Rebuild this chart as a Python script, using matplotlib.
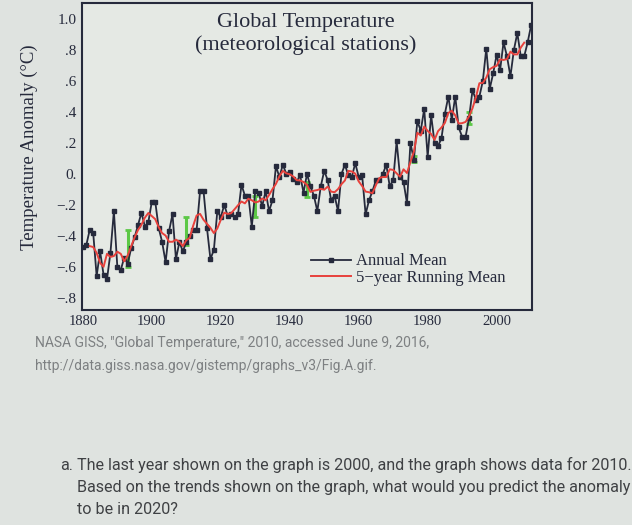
import numpy as np
import pandas as pd
import matplotlib
matplotlib.use("Agg")
import matplotlib.pyplot as plt

# ---------------------------------------------------
# DATA
# ---------------------------------------------------
years = np.arange(1880, 2011)
annual_mean = [
    -0.47, -0.46, -0.36, -0.38, -0.66, -0.50, -0.65, -0.68, -0.51, -0.24,   # 1880s
    -0.60, -0.62, -0.54, -0.58, -0.48, -0.41, -0.33, -0.25, -0.34, -0.31,   # 1890s
    -0.18, -0.18, -0.35, -0.44, -0.57, -0.37, -0.26, -0.55, -0.44, -0.50,   # 1900s
    -0.44, -0.40, -0.36, -0.36, -0.11, -0.11, -0.35, -0.55, -0.49, -0.24,   # 1910s
    -0.28, -0.20, -0.27, -0.26, -0.28, -0.26, -0.07, -0.14, -0.14, -0.34,   # 1920s
    -0.11, -0.12, -0.21, -0.11, -0.24, -0.17, 0.05, -0.02, 0.06, 0.00,      # 1930s
    0.01, -0.03, -0.05, -0.01, -0.12, 0.00, -0.08, -0.14, -0.24, -0.08,     # 1940s
    0.02, -0.04, -0.17, -0.14, -0.24, 0.00, 0.06, -0.01, -0.02, 0.07,       # 1950s
    -0.02, -0.01, -0.26, -0.17, -0.11, -0.04, -0.04, 0.00, 0.06, -0.08,     # 1960s
    -0.04, 0.21, -0.02, -0.05, -0.19, 0.20, 0.09, 0.34, 0.28, 0.42,         # 1970s
    0.11, 0.38, 0.20, 0.18, 0.23, 0.39, 0.50, 0.35, 0.50, 0.30,             # 1980s
    0.24, 0.24, 0.36, 0.54, 0.48, 0.50, 0.60, 0.81, 0.55, 0.65,             # 1990s
    0.77, 0.67, 0.85, 0.76, 0.63, 0.80, 0.91, 0.76, 0.76, 0.85,             # 2000s
    0.96,                                                                   # 2010
]

# green uncertainty bars
err_years = [1893, 1910, 1930, 1945, 1976, 1992]
err_mid = [-0.48, -0.37, -0.21, -0.10, 0.095, 0.36]
err_half = [0.12, 0.09, 0.07, 0.05, 0.02, 0.04]

ytick_vals = [-0.8, -0.6, -0.4, -0.2, 0.0, 0.2, 0.4, 0.6, 0.8, 1.0]
ytick_labels = ["\u2212.8", "\u2212.6", "\u2212.4", "\u2212.2", "0.", ".2", ".4", ".6", ".8", "1.0"]
xtick_vals = [1880, 1900, 1920, 1940, 1960, 1980, 2000]

# 5-year running mean
running_mean = pd.Series(annual_mean, index=years).rolling(5, center=True).mean()

# ---------------------------------------------------
# FIGURE
# ---------------------------------------------------
ink = "#262a3c"
bg = "#dfe3e0"
serif = ["Liberation Serif", "DejaVu Serif"]

fig = plt.figure(figsize=(6.32, 5.25), dpi=100, facecolor=bg)
ax = fig.add_axes([0.130, 0.410, 0.712, 0.584])
ax.set_facecolor("#e5e9e4")

ax.errorbar(err_years, err_mid, yerr=err_half, fmt="none", ecolor="#5cc846",
            elinewidth=2.2, capsize=2.5, capthick=2.0, zorder=2)
ax.plot(years, annual_mean, color=ink, lw=1.3, marker="s", markersize=3,
        label="Annual Mean", zorder=3)
ax.plot(years, running_mean, color="#e8413c", lw=1.4,
        label="5\u2212year Running Mean", zorder=4)

ax.set_xlim(1879.8, 2010.3)
ax.set_ylim(-0.877, 1.103)
ax.set_xticks(xtick_vals)
ax.set_xticklabels([str(y) for y in xtick_vals], family=serif, fontsize=10.5, color=ink)
ax.set_yticks(ytick_vals)
ax.set_yticklabels(ytick_labels, family=serif, fontsize=11, color=ink)
ax.tick_params(length=0, pad=4)

for s in ax.spines.values():
    s.set_color(ink)
    s.set_linewidth(1.5)

ax.set_ylabel("Temperature Anomaly (\u00b0C)", family=serif, fontsize=13.5, color=ink)
ax.yaxis.set_label_coords(-0.098, 0.53)

ax.text(0.496, 0.938, "Global Temperature", transform=ax.transAxes, ha="center",
        va="center", family=serif, fontsize=16, color=ink)
ax.text(0.496, 0.863, "(meteorological stations)", transform=ax.transAxes, ha="center",
        va="center", family=serif, fontsize=16, color=ink)

leg = ax.legend(loc="lower right", bbox_to_anchor=(0.955, 0.055), frameon=False,
                prop={"family": serif, "size": 12}, handlelength=2.4,
                handletextpad=0.3, labelspacing=0.05, borderaxespad=0)
for t in leg.get_texts():
    t.set_color(ink)

# source and question text below the chart
gray = "#7d8082"
fig.text(0.055, 0.347, "NASA GISS, \"Global Temperature,\" 2010, accessed June 9, 2016,",
         family="Roboto", fontsize=10, color=gray, va="center")
fig.text(0.055, 0.303, "http://data.giss.nasa.gov/gistemp/graphs_v3/Fig.A.gif.",
         family="Roboto", fontsize=10, color=gray, va="center")

dark = "#3f4144"
fig.text(0.095, 0.114, "a.", family="Roboto", fontsize=11.6, color=dark, va="center")
fig.text(0.122, 0.114, "The last year shown on the graph is 2000, and the graph shows data for 2010.",
         family="Roboto", fontsize=11.6, color=dark, va="center")
fig.text(0.122, 0.072, "Based on the trends shown on the graph, what would you predict the anomaly",
         family="Roboto", fontsize=11.6, color=dark, va="center")
fig.text(0.122, 0.030, "to be in 2020?", family="Roboto", fontsize=11.6, color=dark, va="center")

fig.savefig("out.png", dpi=100, facecolor=bg)
